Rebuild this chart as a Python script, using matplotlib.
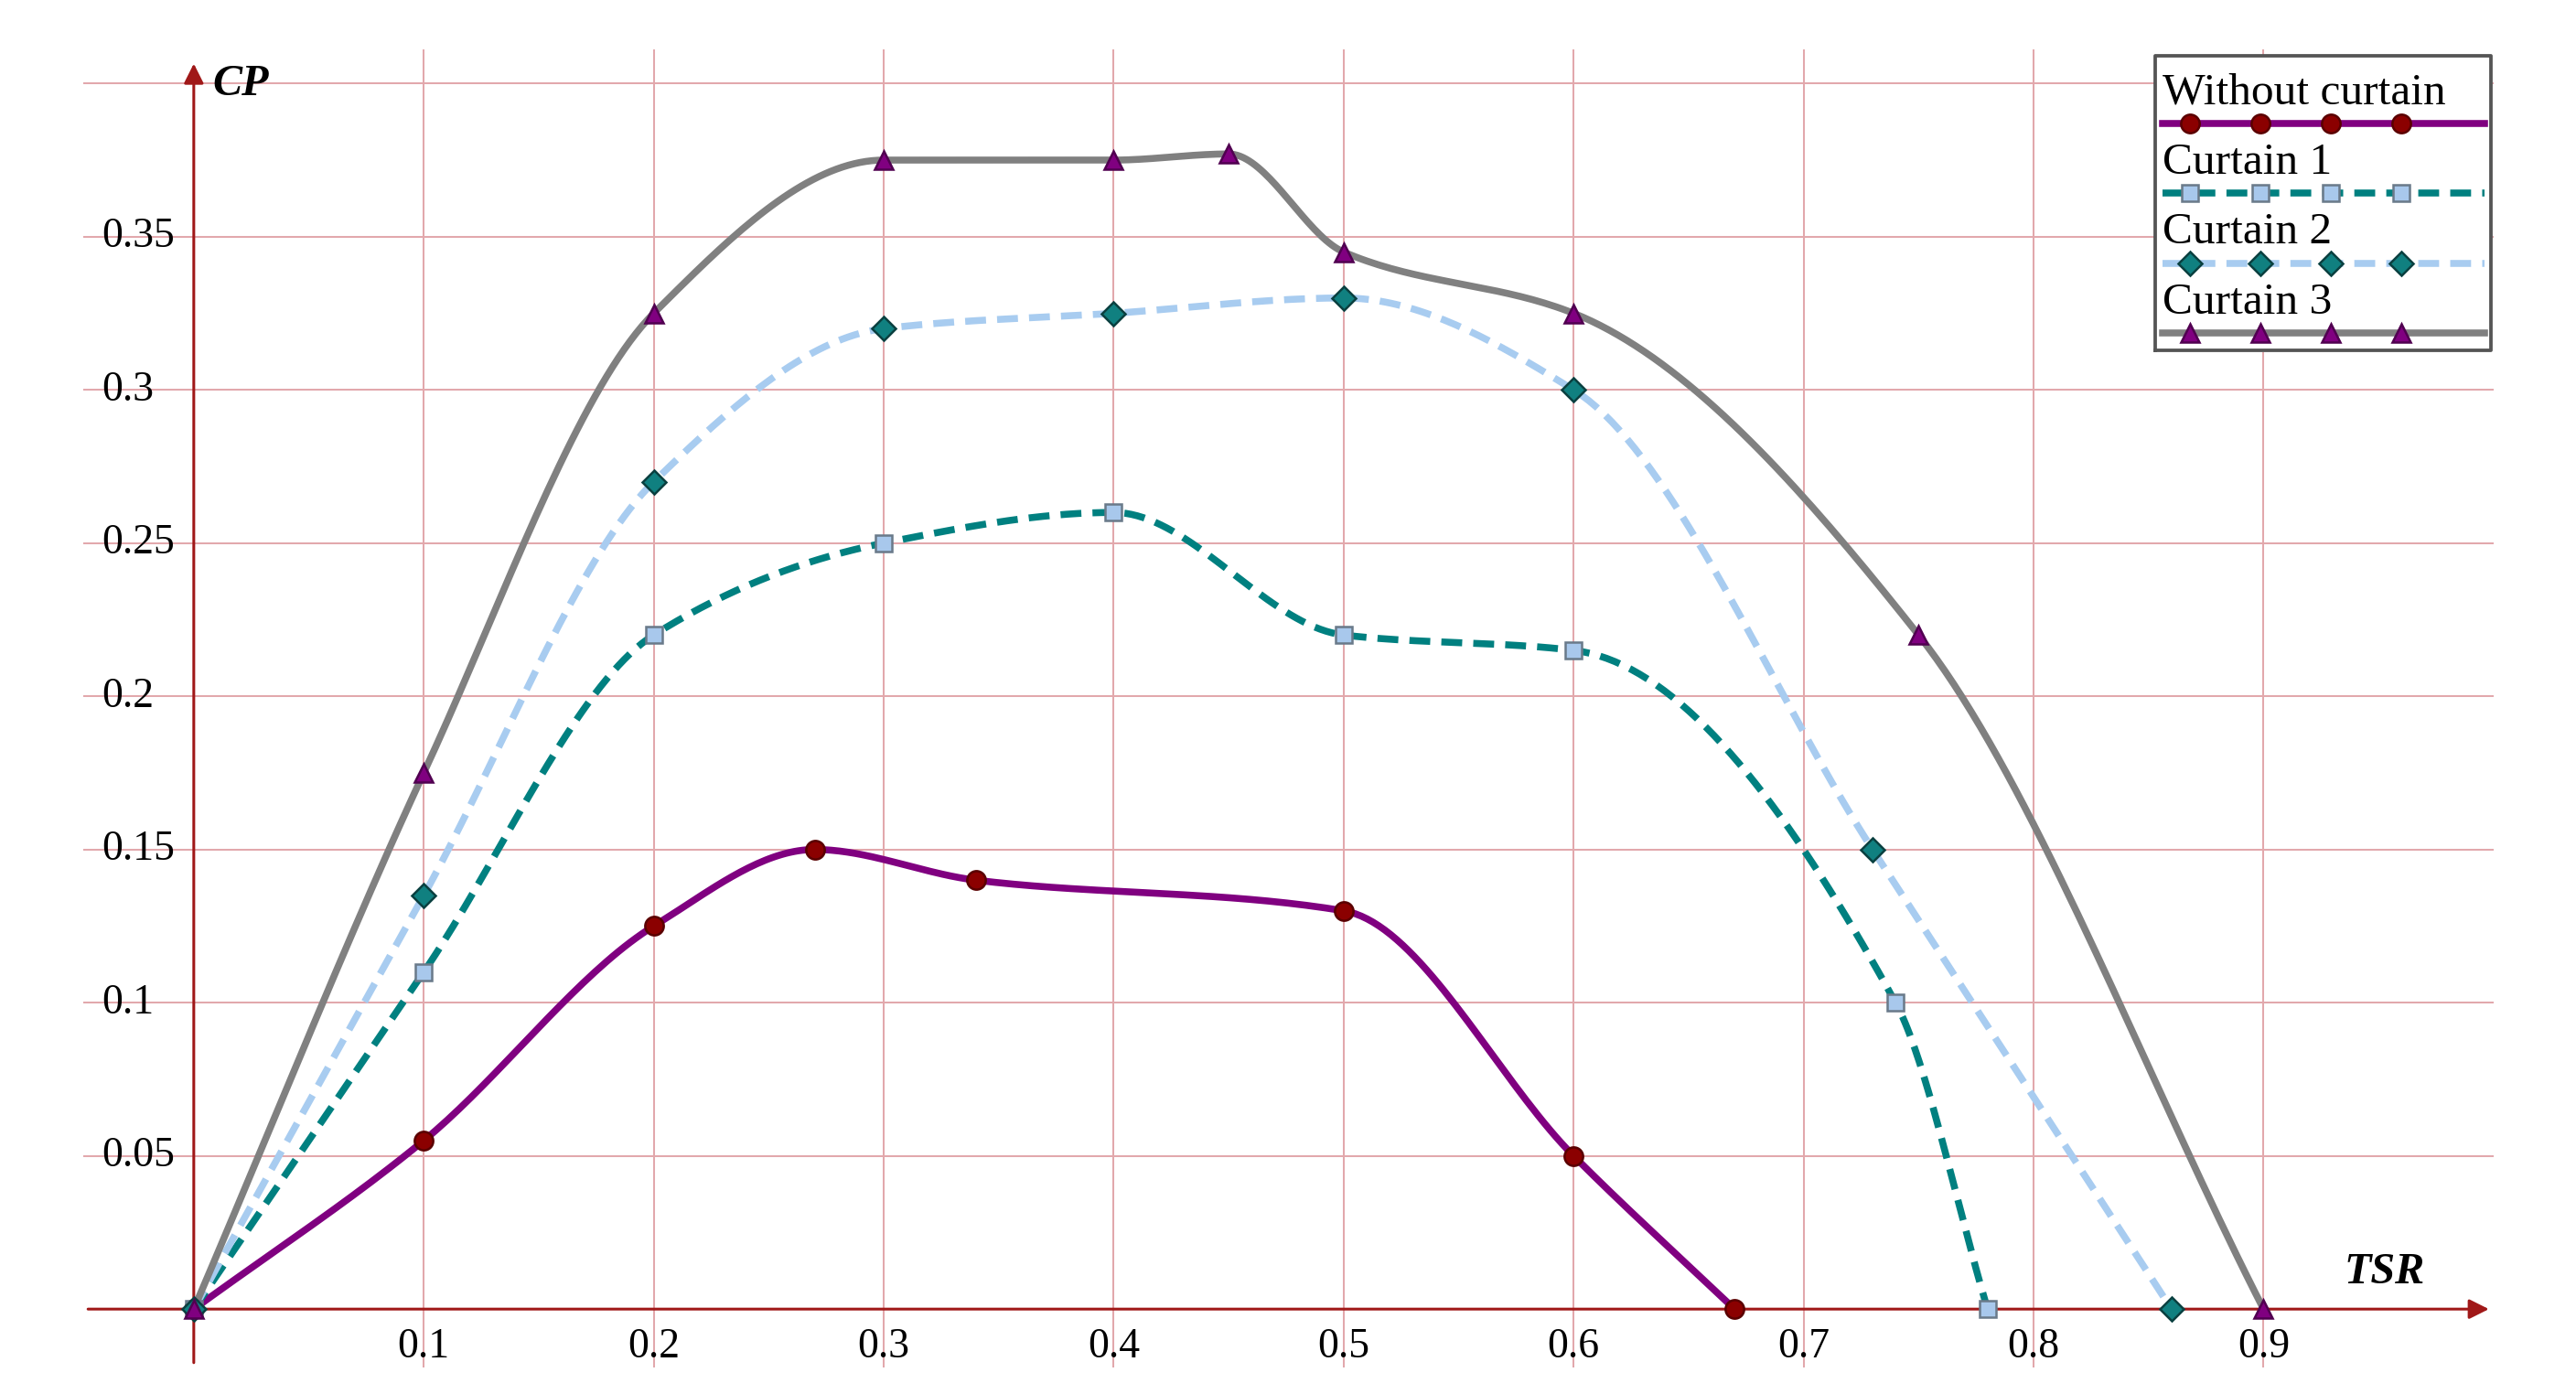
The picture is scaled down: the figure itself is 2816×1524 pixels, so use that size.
import numpy as np
import matplotlib
matplotlib.use("Agg")
import matplotlib.pyplot as plt

x0 = [0, 0.1, 0.2, 0.27, 0.34, 0.5, 0.6, 0.67]
y0 = [0, 0.055, 0.125, 0.15, 0.14, 0.13, 0.05, 0.0]
x1 = [0, 0.1, 0.2, 0.3, 0.4, 0.5, 0.6, 0.74, 0.78]
y1 = [0, 0.11, 0.22, 0.25, 0.26, 0.22, 0.215, 0.1, 0.0]
x2 = [0, 0.1, 0.2, 0.3, 0.4, 0.5, 0.6, 0.73, 0.86]
y2 = [0, 0.135, 0.27, 0.32, 0.325, 0.33, 0.30, 0.15, 0.0]
x3 = [0, 0.1, 0.2, 0.3, 0.4, 0.45, 0.5, 0.6, 0.75, 0.9]
y3 = [0, 0.175, 0.325, 0.375, 0.375, 0.377, 0.345, 0.325, 0.22, 0.0]
names = ["Without curtain", "Curtain 1", "Curtain 2", "Curtain 3"]
xticks = [0.1, 0.2, 0.3, 0.4, 0.5, 0.6, 0.7, 0.8, 0.9]
yticks = [0.05, 0.1, 0.15, 0.2, 0.25, 0.3, 0.35]

def smooth(xs, ys, n=40):
    x = np.asarray(xs, float); y = np.asarray(ys, float)
    h = np.diff(x); d = np.diff(y) / h
    m = np.zeros_like(y)
    for i in range(1, len(x)-1):
        if d[i-1]*d[i] > 0:
            w1 = 2*h[i] + h[i-1]; w2 = h[i] + 2*h[i-1]
            m[i] = (w1 + w2) / (w1/d[i-1] + w2/d[i])
        else:
            m[i] = 0.0
    m[0] = d[0]; m[-1] = d[-1]
    X, Y = [], []
    for i in range(len(x)-1):
        t = np.linspace(0, 1, n)
        h00 = 2*t**3 - 3*t**2 + 1; h10 = t**3 - 2*t**2 + t
        h01 = -2*t**3 + 3*t**2; h11 = t**3 - t**2
        X.append(x[i] + t*h[i])
        Y.append(h00*y[i] + h10*h[i]*m[i] + h01*y[i+1] + h11*h[i]*m[i+1])
    return np.concatenate(X), np.concatenate(Y)

plt.rcParams['font.family'] = ['Liberation Serif', 'DejaVu Serif']
fig = plt.figure(figsize=(15.45, 8.36), dpi=182.33)
ax = fig.add_axes([50/1545, 1-820/836, 1445/1545, 790/836])
ax.set_xlim(-0.048, 1.0)
ax.set_ylim(-0.019, 0.411)
for s in ax.spines.values():
    s.set_visible(False)
ax.set_xticks([]); ax.set_yticks([])
gc = '#e2a8ac'
for xt in xticks:
    ax.axvline(xt, color=gc, lw=0.8, zorder=0)
for yt in yticks + [0.4]:
    ax.axhline(yt, color=gc, lw=0.8, zorder=0)
for xt in xticks:
    ax.text(xt, -0.006, f"{xt:g}", ha='center', va='top', fontsize=18)
for yt in yticks:
    ax.text(-0.040, yt, f"{yt:g}", ha='left', va='center', fontsize=18)
ac = '#a01818'
ax.annotate('', xy=(1.0, 0), xytext=(-0.048, 0), arrowprops=dict(arrowstyle='-|>', color=ac, lw=1.2, mutation_scale=18), zorder=1)
ax.annotate('', xy=(0, 0.408), xytext=(0, -0.019), arrowprops=dict(arrowstyle='-|>', color=ac, lw=1.2, mutation_scale=18), zorder=1)
ax.text(0.008, 0.40, 'CP', fontsize=19, fontweight='bold', style='italic', va='center')
ax.text(0.97, 0.012, 'TSR', fontsize=19, fontweight='bold', style='italic', ha='right', va='center')

styles = [
    (x0, y0, dict(color='#800080', ls='-'), dict(marker='o', mfc='#8b0000', mec='#5a0000', ms=8)),
    (x1, y1, dict(color='#008080', ls=(0, (3, 1.6))), dict(marker='s', mfc='#a8c8ec', mec='#6a7a8a', ms=7)),
    (x2, y2, dict(color='#a8ccf0', ls=(0, (3, 1.6))), dict(marker='D', mfc='#108080', mec='#0a4040', ms=7)),
    (x3, y3, dict(color='#808080', ls='-'), dict(marker='^', mfc='#800080', mec='#500050', ms=8)),
]
for xs, ys, ls_, ms_ in styles:
    sx, sy = smooth(xs, ys)
    ax.plot(sx, sy, lw=3, zorder=3, **ls_)
    ax.plot(xs, ys, ls='none', zorder=4, **ms_)

# legend
lx0, lx1, ly0, ly1 = 0.853, 0.999, 0.313, 0.409
ax.fill([lx0, lx1, lx1, lx0], [ly0, ly0, ly1, ly1], color='white', zorder=5)
ax.plot([lx0, lx1, lx1, lx0, lx0], [ly0, ly0, ly1, ly1, ly0], color='#555555', lw=1.5, zorder=6)
for i, (name, (xs, ys, ls_, ms_)) in enumerate(zip(names, styles)):
    ty = 0.397 - i*0.0228
    lyy = 0.387 - i*0.0228
    ax.text(lx0 + 0.003, ty, name, fontsize=19.5, va='center', zorder=7)
    ax.plot([lx0 + 0.003, lx1 - 0.003], [lyy, lyy], lw=3, zorder=7, **ls_)
    ax.plot(np.linspace(lx0+0.015, lx0+0.107, 4), [lyy]*4, ls='none', zorder=8, **ms_)

fig.savefig('out.png', dpi=182.33, facecolor='white')
